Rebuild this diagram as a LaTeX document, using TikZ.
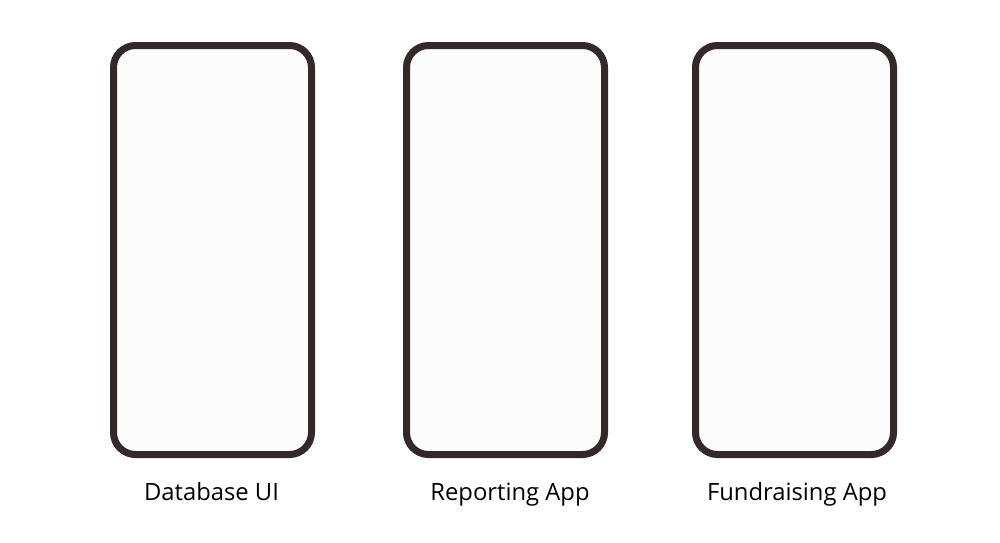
\documentclass[tikz,border=0pt]{standalone}
\usepackage{fontspec}
\setmainfont{Open Sans}
\definecolor{frame}{HTML}{342829}
\definecolor{screen}{HTML}{FCFCFC}
\begin{document}
\begin{tikzpicture}[x=1pt,y=-1pt,
  phone/.style={draw=frame,fill=screen,line width=7pt,rounded corners=22pt},
  caption/.style={font=\fontsize{23.8}{28}\selectfont,text=black,anchor=base}]
\useasboundingbox[fill=white] (0,0) rectangle (1000,542);
\draw[phone] (113.5,45.5) rectangle (311.5,454.5);
\draw[phone] (406.5,45.5) rectangle (604.5,454.5);
\draw[phone] (695.5,45.5) rectangle (893.5,454.5);
\node[caption] (c1) at (211.5,500) {Database UI};
\node[caption] (c2) at (510,500) {Reporting App};
\node[caption] (c3) at (797,500) {Fundraising App};
\end{tikzpicture}
\end{document}
